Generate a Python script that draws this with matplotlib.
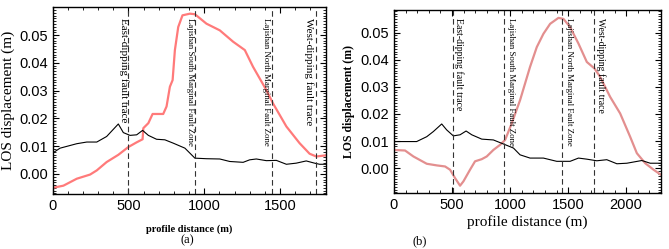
import matplotlib
matplotlib.use("Agg")
import matplotlib.pyplot as plt
from matplotlib.ticker import MultipleLocator

# ---- Panel (a) data ----
a_black_x = [0, 50, 160, 226, 292, 357, 434, 467, 511, 555, 594, 632, 686, 741, 796, 873, 939,
             1015, 1103, 1169, 1257, 1300, 1344, 1410, 1476, 1542, 1607, 1673, 1728, 1761, 1800]
a_black_y = [0.0075, 0.0093, 0.0109, 0.0115, 0.0115, 0.0135, 0.0180, 0.0149, 0.0139, 0.0141, 0.0157,
             0.0139, 0.0125, 0.0123, 0.0111, 0.0093, 0.0057, 0.0055, 0.0054, 0.0045, 0.0042, 0.0051,
             0.0054, 0.0048, 0.0049, 0.0035, 0.0039, 0.0047, 0.0039, 0.0035, 0.0035]
a_red_x = [0, 72, 160, 248, 292, 357, 434, 500, 555, 594, 599, 632, 660, 730, 752, 774, 792, 807,
           829, 857, 906, 939, 1015, 1103, 1191, 1268, 1322, 1410, 1454, 1542, 1629, 1695, 1739, 1800]
a_red_y = [-0.0050, -0.0042, -0.0017, -0.0002, 0.0013, 0.0043, 0.0069, 0.0097, 0.0114, 0.0125,
           0.0165, 0.0183, 0.0216, 0.0216, 0.0243, 0.0314, 0.0338, 0.0446, 0.0529, 0.0571, 0.0577,
           0.0575, 0.0541, 0.0517, 0.0476, 0.0446, 0.0386, 0.0302, 0.0254, 0.0171, 0.0111, 0.0073,
           0.0063, 0.0067]
a_faults = [500, 940, 1450, 1740]
a_fault_labels = ["East-dipping fault trace", "Lajishan South Marginal Fault Zone",
                  "Lajishan North Marginal Fault Zone", "West-dipping fault trace"]
a_xticks = [0, 500, 1000, 1500]

# ---- Panel (b) data ----
b_black_x = [0, 95, 195, 282, 339, 411, 454, 511, 569, 621, 670, 756, 856, 943, 1029, 1086, 1172,
             1287, 1402, 1517, 1589, 1661, 1747, 1833, 1920, 2006, 2135, 2207, 2300]
b_black_y = [0.0098, 0.0098, 0.0098, 0.0116, 0.0135, 0.0163, 0.0141, 0.0119, 0.0123, 0.0137,
             0.0123, 0.0107, 0.0104, 0.0089, 0.0074, 0.0049, 0.0037, 0.0037, 0.0025, 0.0025,
             0.0037, 0.0033, 0.0027, 0.0031, 0.0016, 0.0018, 0.0028, 0.0018, 0.0018]
b_red_x = [0, 95, 167, 282, 368, 440, 483, 526, 569, 598, 655, 698, 756, 799, 856, 914, 957, 1014,
           1086, 1172, 1230, 1287, 1345, 1417, 1460, 1517, 1589, 1661, 1727, 1776, 1862, 1948,
           2034, 2092, 2164, 2236, 2300]
b_red_y = [0.0067, 0.0065, 0.0043, 0.0016, 0.0010, 0.0006, -0.0006, -0.0037, -0.0065, -0.0049,
           -0.0006, 0.0025, 0.0033, 0.0043, 0.0067, 0.0086, 0.0104, 0.0165, 0.0251, 0.0374,
           0.0447, 0.0496, 0.0533, 0.0555, 0.0551, 0.0521, 0.0460, 0.0392, 0.0368, 0.0337,
           0.0263, 0.0202, 0.0116, 0.0055, 0.0018, -0.0006, -0.0025]
b_faults = [505, 950, 1450, 1725]
b_fault_labels = a_fault_labels
b_xticks = [0, 500, 1000, 1500, 2000]

yticks = [0.00, 0.01, 0.02, 0.03, 0.04, 0.05]

W, H = 669, 249
fig = plt.figure(figsize=(W / 100, H / 100), dpi=100)

def box(l, r, t, b):
    return [l / W, 1 - b / H, (r - l) / W, (b - t) / H]

axa = fig.add_axes(box(52.5, 325.5, 7, 194))
axb = fig.add_axes(box(394, 661, 10, 193))

sans = "Liberation Sans"
serif = "Liberation Serif"

def style(ax, xlim, ylim, xticks):
    ax.set_xlim(*xlim)
    ax.set_ylim(*ylim)
    ax.set_xticks(xticks)
    ax.set_yticks(yticks)
    ax.set_yticklabels([f"{v:.2f}" for v in yticks])
    ax.xaxis.set_minor_locator(MultipleLocator(100))
    ax.yaxis.set_minor_locator(MultipleLocator(0.001))
    ax.tick_params(which="both", direction="in", top=True, right=True)
    ax.tick_params(which="major", length=4, width=0.8, labelsize=10.5)
    ax.tick_params(which="minor", length=2, width=0.6)
    for lab in ax.get_xticklabels() + ax.get_yticklabels():
        lab.set_family(sans)
    for s in ax.spines.values():
        s.set_linewidth(1.0)

# Panel (a)
axa.plot(a_red_x, a_red_y, color="#ff7a7a", lw=1.6)
axa.plot(a_black_x, a_black_y, color="black", lw=0.8)
for xv in a_faults:
    axa.axvline(xv, color="#333333", lw=0.8, ls=(0, (5, 3)))
style(axa, (0, 1800), (-0.0072, 0.0601), a_xticks)
a_text_pos = [(468, 0.056, 8), (905, 0.056, 6.3), (1405, 0.056, 6.3), (1690, 0.056, 8)]
for (xv, yv, fs), lab in zip(a_text_pos, a_fault_labels):
    axa.text(xv, yv, lab, rotation=-90, ha="center", va="top", family=serif, fontsize=fs)
axa.set_ylabel("LOS displacement (m)", family=serif, fontsize=11, labelpad=3)
axa.set_xlabel("profile distance (m)", family=serif, fontsize=7.5, fontweight="bold", labelpad=8)

# Panel (b)
axb.plot(b_red_x, b_red_y, color="#e38f8f", lw=1.6)
axb.plot(b_black_x, b_black_y, color="black", lw=0.8)
for xv in b_faults:
    axb.axvline(xv, color="#333333", lw=0.8, ls=(0, (5, 3)))
style(axb, (0, 2300), (-0.0092, 0.0584), b_xticks)
b_text_pos = [(560, 0.0555, 7), (1005, 0.0555, 6.3), (1505, 0.0555, 6.3), (1780, 0.0555, 7)]
for (xv, yv, fs), lab in zip(b_text_pos, b_fault_labels):
    axb.text(xv, yv, lab, rotation=-90, ha="center", va="top", family=serif, fontsize=fs)
axb.set_ylabel("LOS displacement (m)", family=serif, fontsize=8.5, fontweight="bold", labelpad=4)
axb.set_xlabel("profile distance (m)", family=serif, fontsize=11, labelpad=2)

fig.text(187 / W, 1 - 240 / H, "(a)", family=serif, fontsize=9, ha="center", va="center")
fig.text(420 / W, 1 - 241 / H, "(b)", family=serif, fontsize=9, ha="center", va="center")

fig.savefig("out.png", dpi=100)
